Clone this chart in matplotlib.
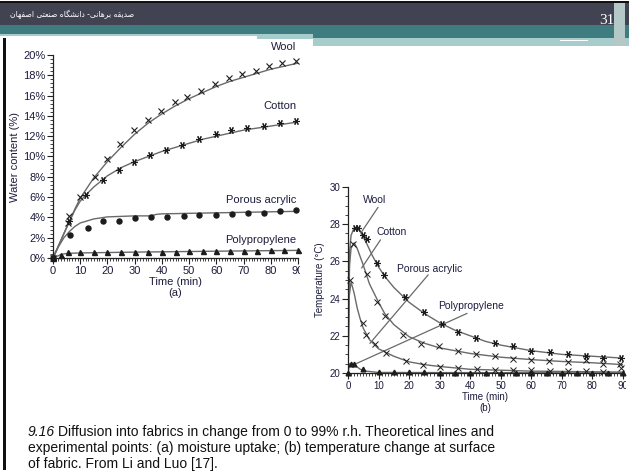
import matplotlib

matplotlib.use("Agg")

import matplotlib.pyplot as plt
from matplotlib.patches import Rectangle
from matplotlib.ticker import MultipleLocator, FuncFormatter
from matplotlib.transforms import Bbox, TransformedBbox

plt.rcParams["font.family"] = ["Liberation Sans", "DejaVu Sans"]

W, H = 629, 473

# ---- panel (a): moisture uptake, theoretical lines ----
a_wool_line_t = [0, 2, 5, 8, 10, 12, 15, 20, 25, 30, 35, 40, 45, 50, 55, 60, 65, 70, 75, 80, 85, 90]
a_wool_line_v = [0, 1.2, 3.0, 4.8, 5.9, 6.7, 7.9, 9.5, 10.9, 12.2, 13.3, 14.2, 15.0, 15.7, 16.3,
                 16.9, 17.4, 17.8, 18.2, 18.6, 18.9, 19.2]
a_cotton_line_t = [0, 2, 5, 8, 10, 12, 15, 20, 25, 30, 35, 40, 45, 50, 55, 60, 65, 70, 75, 80, 85, 90]
a_cotton_line_v = [0, 1.2, 3.0, 4.7, 5.6, 6.2, 7.0, 8.1, 8.9, 9.5, 10.0, 10.5, 10.9, 11.3, 11.7,
                   12.0, 12.3, 12.6, 12.8, 13.0, 13.2, 13.4]
a_acrylic_line_t = [0, 2, 4, 6, 8, 10, 15, 20, 25, 30, 36, 38, 40, 50, 60, 70, 80, 90]
a_acrylic_line_v = [0, 1.1, 2.0, 2.6, 3.1, 3.45, 3.85, 4.05, 4.1, 4.15, 4.15, 4.3, 4.35, 4.4,
                    4.45, 4.5, 4.55, 4.6]
a_pp_line_t = [0, 3, 5, 10, 30, 60, 90]
a_pp_line_v = [0, 0.35, 0.45, 0.5, 0.58, 0.67, 0.75]

# ---- panel (a): experimental points ----
a_wool_pts_t = [0, 5.5, 6, 10, 15.5, 20, 24.7, 29.7, 34.8, 39.8, 44.7, 49.3, 54.5, 59.4, 64.6,
                69.5, 74.4, 79.3, 84.2, 89.1]
a_wool_pts_v = [0, 3.4, 4.1, 6.0, 8.0, 9.8, 11.2, 12.6, 13.6, 14.5, 15.4, 15.9, 16.5, 17.1, 17.7,
                18.1, 18.4, 18.9, 19.2, 19.4]
a_cotton_pts_t = [0, 6, 12, 18.4, 24.2, 29.7, 35.7, 41.6, 47.5, 53.6, 59.7, 65.5, 71.2, 77.4, 83.5, 89.1]
a_cotton_pts_v = [0, 3.6, 6.2, 7.7, 8.7, 9.5, 10.1, 10.6, 11.1, 11.7, 12.2, 12.6, 12.8, 13.05, 13.3, 13.5]
a_acrylic_pts_t = [0, 6.1, 12.9, 18.4, 24.2, 30, 36.1, 41.9, 48, 53.6, 60, 65.9, 71.6, 77.4, 83.5, 89.1]
a_acrylic_pts_v = [0, 2.3, 2.95, 3.6, 3.67, 3.93, 4.03, 4.03, 4.1, 4.26, 4.26, 4.36, 4.43, 4.43, 4.6, 4.7]
a_pp_pts_t = [0, 3, 5.5, 10, 15, 20, 25, 30, 35, 40, 45, 50, 55, 60, 65, 70, 75, 80, 85, 90]
a_pp_pts_v = [0, 0.3, 0.55, 0.55, 0.55, 0.57, 0.57, 0.6, 0.6, 0.6, 0.62, 0.65, 0.65, 0.67, 0.7,
              0.72, 0.72, 0.75, 0.75, 0.78]

# ---- panel (b): surface temperature, theoretical lines ----
b_wool_line_t = [0, 0.5, 1, 2, 3, 4, 5, 6, 8, 10, 12, 15, 20, 25, 30, 35, 40, 45, 50, 55, 60,
                 65, 70, 75, 80, 85, 90]
b_wool_line_v = [20.0, 26.5, 27.4, 27.8, 27.8, 27.6, 27.3, 27.0, 26.3, 25.7, 25.2, 24.6, 23.8,
                 23.2, 22.7, 22.3, 22.0, 21.7, 21.5, 21.35, 21.2, 21.1, 21.0, 20.95, 20.9, 20.85, 20.8]
b_cotton_line_t = [0, 0.5, 1, 2, 3, 5, 7, 10, 12, 15, 20, 25, 30, 35, 40, 50, 60, 70, 80, 90]
b_cotton_line_v = [20.0, 25.8, 26.7, 27.0, 26.7, 25.8, 24.8, 23.8, 23.2, 22.6, 21.95, 21.6,
                   21.35, 21.2, 21.05, 20.85, 20.72, 20.62, 20.55, 20.45]
b_acrylic_line_t = [0, 0.3, 1, 2, 3, 4, 5, 7, 10, 15, 20, 25, 30, 40, 50, 60, 90]
b_acrylic_line_v = [20.0, 24.0, 24.9, 24.3, 23.5, 22.9, 22.4, 21.8, 21.3, 20.9, 20.6, 20.45,
                    20.35, 20.2, 20.15, 20.1, 20.05]
b_pp_line_t = [0, 0.5, 2, 4, 6, 10, 90]
b_pp_line_v = [20.0, 20.5, 20.45, 20.2, 20.1, 20.03, 20.0]

# ---- panel (b): experimental points ----
b_wool_pts_t = [2.2, 3.3, 4.9, 6.3, 9.5, 11.7, 18.5, 24.8, 30.8, 36, 42, 48, 54, 60, 66, 72,
                77.8, 83.6, 89.4]
b_wool_pts_v = [27.8, 27.8, 27.4, 27.2, 25.9, 25.25, 24.1, 23.26, 22.65, 22.2, 21.9, 21.6,
                21.43, 21.2, 21.15, 21.0, 20.9, 20.8, 20.8]
b_cotton_pts_t = [1.6, 6.3, 9.5, 12, 18, 24, 29.8, 36, 42, 48.2, 54, 60, 65.8, 72, 78, 83.6, 89]
b_cotton_pts_v = [26.95, 25.3, 23.8, 23.05, 22.06, 21.58, 21.43, 21.16, 21.04, 20.9, 20.77,
                  20.72, 20.63, 20.57, 20.72, 20.5, 20.5]
b_acrylic_pts_t = [0.8, 4.9, 6, 9, 12.3, 18.9, 24.5, 30, 36, 42.2, 48, 54, 60, 66, 72, 77.8, 83.6, 89.4]
b_acrylic_pts_v = [25.0, 22.7, 22.06, 21.58, 21.1, 20.63, 20.45, 20.3, 20.27, 20.2, 20.18,
                   20.14, 20.14, 20.1, 20.1, 20.1, 20.07, 20.27]
b_pp_pts_t = [0, 1, 2, 5, 10, 15, 20, 25, 30, 35, 40, 45, 50, 55, 60, 65, 70, 75, 80, 85, 90]
b_pp_pts_v = [20.0, 20.5, 20.5, 20.2, 20.05, 20.05, 20.03, 20.03, 20.02, 20.02, 20.02, 20.02,
              20.02, 20.02, 20.02, 20.02, 20.02, 20.02, 20.02, 20.02, 20.02]

# leader lines of panel (b): label, label xy (left, centre), line start, line end
b_labels = ["Wool", "Cotton", "Porous acrylic", "Polypropylene"]
b_label_xy = [(4.9, 29.3), (9.2, 27.6), (16.0, 25.6), (29.5, 23.6)]
b_leader_from = [(9.8, 28.9), (10.6, 27.15), (26.2, 25.27), (38.9, 23.2)]
b_leader_to = [(4.5, 27.6), (4.5, 25.65), (7.2, 21.6), (1.7, 20.43)]

header_text = "صدیقه برهانی- دانشگاه صنعتی اصفهان"
page_no = "31"
caption_num = "9.16"
caption_lines = [
    "Diffusion into fabrics in change from 0 to 99% r.h. Theoretical lines and",
    "experimental points: (a) moisture uptake; (b) temperature change at surface",
    "of fabric. From Li and Luo [17].",
]

LINE = "#6a6a6a"
MARK = "#1c1c1c"
TXT = "#1c1c3c"
ASTER = (6, 2, 90)

# contextual forms (isolated, final, initial, medial) for the header letters
FORMS = {
    "ص": (0xFEB9, 0xFEBA, 0xFEBB, 0xFEBC), "د": (0xFEA9, 0xFEAA, None, None),
    "ی": (0xFBFC, 0xFBFD, 0xFBFE, 0xFBFF), "ق": (0xFED5, 0xFED6, 0xFED7, 0xFED8),
    "ه": (0xFEE9, 0xFEEA, 0xFEEB, 0xFEEC), "ب": (0xFE8F, 0xFE90, 0xFE91, 0xFE92),
    "ر": (0xFEAD, 0xFEAE, None, None), "ا": (0xFE8D, 0xFE8E, None, None),
    "ن": (0xFEE5, 0xFEE6, 0xFEE7, 0xFEE8), "ش": (0xFEB5, 0xFEB6, 0xFEB7, 0xFEB8),
    "گ": (0xFB92, 0xFB93, 0xFB94, 0xFB95), "ع": (0xFEC9, 0xFECA, 0xFECB, 0xFECC),
    "ت": (0xFE95, 0xFE96, 0xFE97, 0xFE98), "ف": (0xFED1, 0xFED2, 0xFED3, 0xFED4),
}


def shape_rtl(s):
    out = []
    for i, ch in enumerate(s):
        if ch not in FORMS:
            out.append(ch)
            continue
        prev = s[i - 1] if i > 0 else ""
        nxt = s[i + 1] if i + 1 < len(s) else ""
        join_prev = prev in FORMS and FORMS[prev][2] is not None
        join_next = FORMS[ch][2] is not None and nxt in FORMS
        iso, fin, ini, med = FORMS[ch]
        if join_prev and join_next:
            code = med
        elif join_prev:
            code = fin
        elif join_next:
            code = ini
        else:
            code = iso
        out.append(chr(code))
    return "".join(out)[::-1]


def px_rect(fig, x0, y0, x1, y1, color):
    fig.add_artist(Rectangle((x0 / W, 1 - y1 / H), (x1 - x0) / W, (y1 - y0) / H,
                             transform=fig.transFigure, color=color, lw=0, zorder=0))


def style_axis(ax, size):
    for side in ["top", "right"]:
        ax.spines[side].set_visible(False)
    for side in ["left", "bottom"]:
        ax.spines[side].set_linewidth(0.9)
        ax.spines[side].set_color("#222222")
    ax.tick_params(which="major", length=4, width=0.8, labelsize=size, colors="#222222",
                   labelcolor=TXT, pad=1.5)
    ax.tick_params(which="minor", length=2.2, width=0.6, colors="#222222")
    ax.set_facecolor("none")


def clip_label(ax, text, right_px):
    box = TransformedBbox(Bbox([[0, 0], [right_px / W, 1]]), ax.figure.transFigure)
    for tick in ax.xaxis.get_major_ticks():
        if tick.label1.get_text() == text:
            tick.label1.set_clip_on(True)
            tick.label1.set_clip_box(box)


fig = plt.figure(figsize=(W / 100, H / 100), dpi=100)

# slide header and frame
px_rect(fig, 0, 1, W, 3, "#111111")
px_rect(fig, 0, 3, W, 25, "#414252")
px_rect(fig, 0, 25, W, 34, "#3e7c80")
px_rect(fig, 0, 34, 313, 36, "#a6cccc")
px_rect(fig, 257, 36, 313, 39, "#a6cccc")
px_rect(fig, 313, 34, W, 38, "#3e7c80")
px_rect(fig, 313, 38, W, 46, "#a6cccc")
px_rect(fig, 560, 40, 588, 41, "#ffffff")
px_rect(fig, 614, 3, 625, 46, "#b4c8c8")
px_rect(fig, 3, 38, 6, 470, "#111111")
fig.text(10 / W, 1 - 15 / H, shape_rtl(header_text), family="DejaVu Sans", fontsize=5.5,
         color="white", va="center", ha="left")
fig.text(607 / W, 1 - 20 / H, page_no, family="Liberation Serif", fontsize=11,
         color="white", va="center", ha="center")

# ---------------- panel (a) ----------------
ax = fig.add_axes([53 / W, 1 - 258 / H, 245 / W, 203 / H])
style_axis(ax, 8)
ax.plot(a_wool_line_t, a_wool_line_v, color=LINE, lw=1.0, zorder=2)
ax.plot(a_cotton_line_t, a_cotton_line_v, color=LINE, lw=1.0, zorder=2)
ax.plot(a_acrylic_line_t, a_acrylic_line_v, color=LINE, lw=1.0, zorder=2)
ax.plot(a_pp_line_t, a_pp_line_v, color=LINE, lw=1.0, zorder=2)
ax.plot(a_wool_pts_t, a_wool_pts_v, "x", color=MARK, ms=4, mew=0.8, zorder=3, clip_on=False)
ax.plot(a_cotton_pts_t, a_cotton_pts_v, ls="none", marker=ASTER, color=MARK, ms=5, mew=0.8,
        zorder=3, clip_on=False)
ax.plot(a_acrylic_pts_t, a_acrylic_pts_v, "o", color=MARK, ms=3.6, zorder=3, clip_on=False)
ax.plot(a_pp_pts_t, a_pp_pts_v, "^", color=MARK, ms=3.6, zorder=3, clip_on=False)
ax.set_xlim(0, 90)
ax.set_ylim(0, 20)
ax.xaxis.set_major_locator(MultipleLocator(10))
ax.xaxis.set_minor_locator(MultipleLocator(1))
ax.yaxis.set_major_locator(MultipleLocator(2))
ax.yaxis.set_minor_locator(MultipleLocator(0.4))
ax.yaxis.set_major_formatter(FuncFormatter(lambda v, p: f"{v:.0f}%"))
ax.set_xlabel("Time (min)\n(a)", fontsize=8, color=TXT, labelpad=1, linespacing=1.1)
ax.set_ylabel("Water content (%)", fontsize=8, color=TXT, labelpad=2)
ax.text(89.5, 20.8, "Wool", ha="right", va="center", fontsize=8, color=TXT, clip_on=False)
ax.text(89.5, 15.0, "Cotton", ha="right", va="center", fontsize=8, color=TXT)
ax.text(89.5, 5.7, "Porous acrylic", ha="right", va="center", fontsize=8, color=TXT)
ax.text(89.5, 1.8, "Polypropylene", ha="right", va="center", fontsize=8, color=TXT)

# ---------------- panel (b) ----------------
bx = fig.add_axes([348 / W, 1 - 373 / H, 275 / W, 186 / H])
style_axis(bx, 7)
bx.plot(b_wool_line_t, b_wool_line_v, color=LINE, lw=1.0, zorder=2)
bx.plot(b_cotton_line_t, b_cotton_line_v, color=LINE, lw=1.0, zorder=2)
bx.plot(b_acrylic_line_t, b_acrylic_line_v, color=LINE, lw=1.0, zorder=2)
bx.plot(b_pp_line_t, b_pp_line_v, color=LINE, lw=1.0, zorder=2)
bx.plot(b_wool_pts_t, b_wool_pts_v, ls="none", marker=ASTER, color=MARK, ms=5, mew=0.8,
        zorder=3, clip_on=False)
bx.plot(b_cotton_pts_t, b_cotton_pts_v, "x", color=MARK, ms=4, mew=0.7, zorder=3, clip_on=False)
bx.plot(b_acrylic_pts_t, b_acrylic_pts_v, "x", color=MARK, ms=4, mew=0.7, zorder=3, clip_on=False)
bx.plot(b_pp_pts_t, b_pp_pts_v, "^", color=MARK, ms=3.4, zorder=3, clip_on=False)
for (x0, y0), (x1, y1) in zip(b_leader_from, b_leader_to):
    bx.plot([x0, x1], [y0, y1], color=LINE, lw=0.9, zorder=2)
for name, (lx, ly) in zip(b_labels, b_label_xy):
    bx.text(lx, ly, name, ha="left", va="center", fontsize=7.5, color=TXT, clip_on=False)
bx.set_xlim(0, 90)
bx.set_ylim(20, 30)
bx.xaxis.set_major_locator(MultipleLocator(10))
bx.xaxis.set_minor_locator(MultipleLocator(1))
bx.yaxis.set_major_locator(MultipleLocator(2))
bx.yaxis.set_minor_locator(MultipleLocator(0.5))
bx.set_xlabel("Time (min)\n(b)", fontsize=7, color=TXT, labelpad=1, linespacing=1.1)
bx.set_ylabel("Temperature (°C)", fontsize=7, color=TXT, labelpad=3)

# caption
fig.text(28 / W, 1 - 432 / H, caption_num, fontsize=10, style="italic", color="#111111",
         va="center", ha="left")
fig.text(58 / W, 1 - 432 / H, caption_lines[0], fontsize=10, color="#111111",
         va="center", ha="left")
fig.text(28 / W, 1 - 448 / H, caption_lines[1], fontsize=10, color="#111111",
         va="center", ha="left")
fig.text(28 / W, 1 - 464 / H, caption_lines[2], fontsize=10, color="#111111",
         va="center", ha="left")

# the source picture is cropped right through the last tick label of each panel
fig.canvas.draw()
clip_label(ax, "90", 300)
clip_label(bx, "90", 626)

fig.savefig("out.png", dpi=100)
